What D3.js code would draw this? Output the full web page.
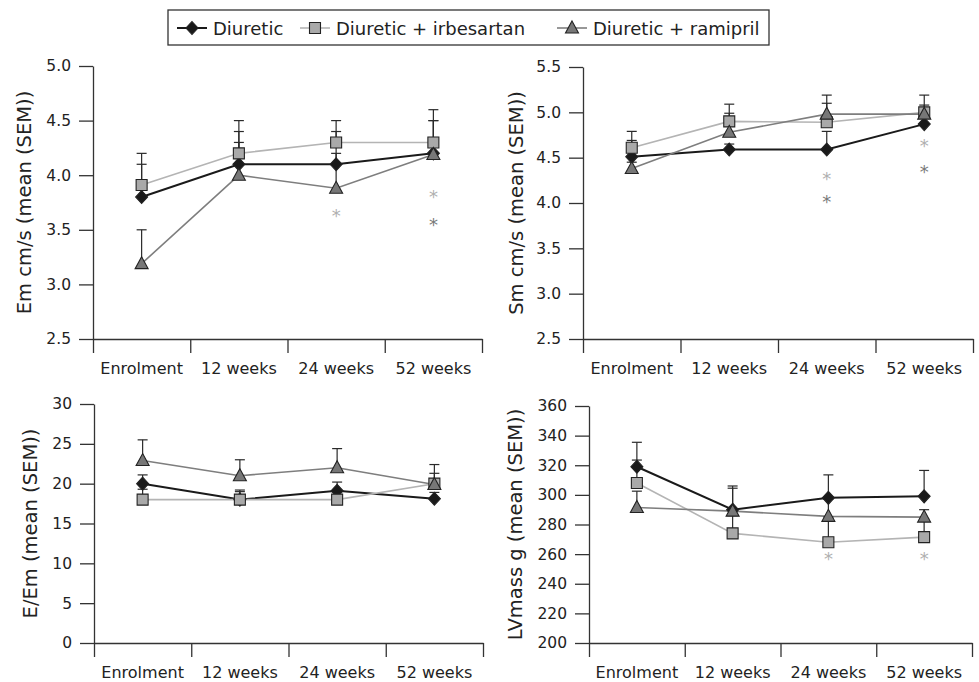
<!DOCTYPE html>
<html>
<head>
<meta charset="utf-8">
<script src="https://cdn.jsdelivr.net/npm/d3@7"></script>
<style>
  body { margin: 0; background: #fff; }
  svg { display: block; font-family: 'DejaVu Sans', sans-serif; }
</style>
</head>
<body>
<svg width="979" height="682"></svg>
<script>
const timepoints = ['Enrolment', '12 weeks', '24 weeks', '52 weeks']
const seriesNames = ['Diuretic', 'Diuretic + irbesartan', 'Diuretic + ramipril']

// means and top of SEM bar, one row per series (diuretic, irbesartan, ramipril)
const emMean = [[3.8, 4.1, 4.1, 4.2], [3.91, 4.2, 4.3, 4.3], [3.19, 4.0, 3.88, 4.19]]
const emUpper = [[4.1, 4.4, 4.4, 4.5], [4.2, 4.5, 4.5, 4.6], [3.5, 4.3, 4.2, 4.5]]
const emTicks = [2.5, 3.0, 3.5, 4.0, 4.5, 5.0]
const emStars = [[2, 3.66, 1], [3, 3.83, 1], [3, 3.58, 2]]

const smMean = [[4.51, 4.59, 4.59, 4.87], [4.61, 4.9, 4.89, 5.0], [4.38, 4.78, 4.98, 4.98]]
const smUpper = [[4.69, 4.65, 4.79, 5.08], [4.79, 5.09, 5.1, 5.19], [4.45, 4.99, 5.19, 5.05]]
const smTicks = [2.5, 3.0, 3.5, 4.0, 4.5, 5.0, 5.5]
const smStars = [[2, 4.3, 1], [2, 4.05, 2], [3, 4.67, 1], [3, 4.38, 2]]

const eemMean = [[20, 18, 19.1, 18.1], [18, 18, 18, 20], [22.9, 21, 22, 19.9]]
const eemUpper = [[21.1, 19.2, 20.2, 18.9], [19.3, 19.0, 18.5, 21.3], [25.5, 23.0, 24.4, 22.4]]
const eemTicks = [0, 5, 10, 15, 20, 25, 30]
const eemStars = []

const lvMean = [[319, 290, 298, 299], [308, 274, 268, 271.5], [291.5, 289, 285.5, 285]]
const lvUpper = [[335.5, 306, 313.5, 316.5], [323.5, 286, 285, 284], [302.5, 304.5, 297, 290]]
const lvTicks = [200, 220, 240, 260, 280, 300, 320, 340, 360]
const lvStars = [[2, 258.8, 1], [3, 258.8, 1]]

const lineColours = ['#1a1a1a', '#b4b4b4', '#7e7e7e']
const fillColours = ['#1a1a1a', '#a9a9a9', '#777777']
const starColours = ['#1a1a1a', '#b0b0b0', '#7a7a7a']

const panels = [
  { title: 'Em cm/s (mean (SEM))', mean: emMean, upper: emUpper, ticks: emTicks, stars: emStars, fmt: '.1f',
    left: 93, right: 482, top: 66, bottom: 339, titleX: 31 },
  { title: 'Sm cm/s (mean (SEM))', mean: smMean, upper: smUpper, ticks: smTicks, stars: smStars, fmt: '.1f',
    left: 583, right: 973, top: 67, bottom: 339, titleX: 523 },
  { title: 'E/Em (mean (SEM))', mean: eemMean, upper: eemUpper, ticks: eemTicks, stars: eemStars, fmt: 'd',
    left: 94, right: 483, top: 404, bottom: 643, titleX: 37 },
  { title: 'LVmass g (mean (SEM))', mean: lvMean, upper: lvUpper, ticks: lvTicks, stars: lvStars, fmt: 'd',
    left: 589, right: 972, top: 406, bottom: 643, titleX: 522 }
]

const svg = d3.select('svg')

function markerPath(i) {
  if (i === 0) return 'M0,-6.5L6,0L0,6.5L-6,0Z'
  if (i === 1) return 'M-5.5,-5.5H5.5V5.5H-5.5Z'
  return 'M0,-7L6.5,5H-6.5Z'
}

function drawPanel(p) {
  const g = svg.append('g')
  const y = d3.scaleLinear().domain(d3.extent(p.ticks)).range([p.bottom, p.top])
  const xBand = d3.scaleBand().domain(timepoints).range([p.left, p.right])
  const xTick = d3.scaleLinear().domain([0, timepoints.length]).range([p.left, p.right])
  const xc = t => xBand(t) + xBand.bandwidth() / 2

  const yAxis = g.append('g')
    .attr('transform', `translate(${p.left},0)`)
    .call(d3.axisLeft(y).tickValues(p.ticks).tickFormat(d3.format(p.fmt)).tickSize(14).tickSizeOuter(0).tickPadding(8))
  const xAxis = g.append('g')
    .attr('transform', `translate(0,${p.bottom})`)
    .call(d3.axisBottom(xTick).tickValues(d3.range(timepoints.length + 1)).tickFormat('').tickSize(14).tickSizeOuter(0))

  g.selectAll('.domain, .tick line').attr('stroke', '#333').attr('stroke-width', 1.3)
  yAxis.selectAll('text').attr('font-size', 15.5).attr('fill', '#222').attr('font-family', 'DejaVu Sans')

  g.append('g').selectAll('text')
    .data(timepoints)
    .enter()
    .append('text')
    .attr('x', d => xc(d))
    .attr('y', p.bottom + 35)
    .attr('text-anchor', 'middle')
    .attr('font-size', 16)
    .attr('fill', '#222')
    .text(d => d)

  g.append('text')
    .attr('transform', `translate(${p.titleX},${(p.top + p.bottom) / 2}) rotate(-90)`)
    .attr('text-anchor', 'middle')
    .attr('font-size', 19.5)
    .attr('fill', '#222')
    .text(p.title)

  const line = d3.line()
    .x((d, i) => xc(timepoints[i]))
    .y(d => y(d))

  // lines
  g.append('g').selectAll('path')
    .data(p.mean)
    .enter()
    .append('path')
    .attr('d', d => line(d))
    .attr('fill', 'none')
    .attr('stroke', (d, i) => lineColours[i])
    .attr('stroke-width', (d, i) => i === 0 ? 2 : 1.6)

  // SEM bars (upper only)
  p.mean.forEach((row, s) => {
    const eb = g.append('g').attr('stroke', '#2a2a2a').attr('stroke-width', 1.2)
    row.forEach((v, i) => {
      const x = xc(timepoints[i])
      eb.append('line').attr('x1', x).attr('x2', x).attr('y1', y(v)).attr('y2', y(p.upper[s][i]))
      eb.append('line').attr('x1', x - 5).attr('x2', x + 5).attr('y1', y(p.upper[s][i])).attr('y2', y(p.upper[s][i]))
    })
  })

  // markers
  p.mean.forEach((row, s) => {
    g.append('g').selectAll('path')
      .data(row)
      .enter()
      .append('path')
      .attr('transform', (d, i) => `translate(${xc(timepoints[i])},${y(d)})`)
      .attr('d', markerPath(s))
      .attr('fill', fillColours[s])
      .attr('stroke', '#222')
      .attr('stroke-width', 1.1)
  })

  // significance asterisks
  g.append('g').selectAll('text')
    .data(p.stars)
    .enter()
    .append('text')
    .attr('x', d => xc(timepoints[d[0]]))
    .attr('y', d => y(d[1]))
    .attr('dy', '0.53em')
    .attr('text-anchor', 'middle')
    .attr('font-size', 18)
    .attr('fill', d => starColours[d[2]])
    .text('*')
}

panels.forEach(drawPanel)

// legend
const legendX = [192, 315, 572]
const legend = svg.append('g')
legend.append('rect')
  .attr('x', 168).attr('y', 10).attr('width', 601).attr('height', 35)
  .attr('fill', '#fff').attr('stroke', '#333').attr('stroke-width', 1.3)

seriesNames.forEach((name, s) => {
  const item = legend.append('g').attr('transform', `translate(${legendX[s]},28)`)
  item.append('line').attr('x1', -15).attr('x2', 15)
    .attr('stroke', lineColours[s]).attr('stroke-width', s === 0 ? 2 : 1.6)
  item.append('path').attr('d', markerPath(s))
    .attr('fill', fillColours[s]).attr('stroke', '#222').attr('stroke-width', 1.1)
  item.append('text').attr('x', 21).attr('y', 6.5)
    .attr('font-size', 18).attr('fill', '#222')
    .text(name)
})
</script>
</body>
</html>
